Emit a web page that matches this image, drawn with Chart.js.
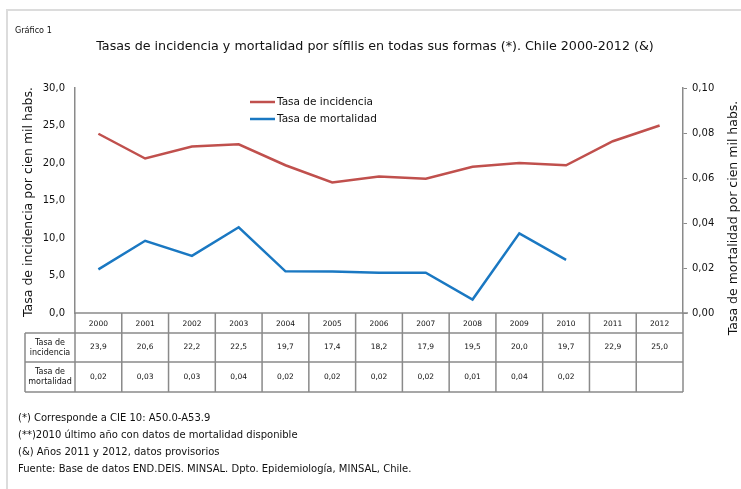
<!DOCTYPE html>
<html>
<head>
<meta charset="utf-8">
<script src="https://cdn.jsdelivr.net/npm/chart.js@4.4.1/dist/chart.umd.min.js"></script>
<style>
  html, body { margin: 0; padding: 0; background: #ffffff; }
  #wrap { position: relative; width: 741px; height: 489px; }
</style>
</head>
<body>
<div id="wrap"><canvas id="sifilisChart" width="741" height="489"></canvas></div>
<script>
// Datos del gráfico
var years = ['2000', '2001', '2002', '2003', '2004', '2005', '2006', '2007', '2008', '2009', '2010', '2011', '2012'];
var incidencia = [23.9, 20.6, 22.2, 22.5, 19.7, 17.4, 18.2, 17.9, 19.5, 20.0, 19.7, 22.9, 25.0];
var mortalidad = [0.0194, 0.0321, 0.0254, 0.0381, 0.0185, 0.0184, 0.0179, 0.0179, 0.0060, 0.0354, 0.0236, null, null];
var seriesNames = ['Tasa de incidencia', 'Tasa de mortalidad'];
var rowNames = [['Tasa de', 'incidencia'], ['Tasa de', 'mortalidad']];
var titleText = 'Tasas de incidencia y mortalidad por sífilis en todas sus formas (*). Chile 2000-2012 (&)';
var leftAxisTitle = 'Tasa de incidencia por cien mil habs.';
var rightAxisTitle = 'Tasa de mortalidad por cien mil habs.';
var notes = [
    '(*) Corresponde a CIE 10: A50.0-A53.9',
    '(**)2010 último año con datos de mortalidad disponible',
    '(&) Años 2011 y 2012, datos provisorios',
    'Fuente: Base de datos END.DEIS. MINSAL. Dpto. Epidemiología, MINSAL, Chile.'
];

var FONT = '"DejaVu Sans", Verdana, sans-serif';
var FONT_NARROW = '"DejaVu Sans Condensed", "DejaVu Sans", sans-serif';
var RED = '#c0504d';
var BLUE = '#1a78c2';
var LINE_GREY = '#8a8a8a';

function comma(v, d) {
    return v.toFixed(d).replace('.', ',');
}

// Textos, leyenda y tabla de datos
var extrasPlugin = {
    id: 'extras',
    afterDraw: function(chart) {
        var ctx = chart.ctx;
        var area = chart.chartArea;
        var x = chart.scales.x;
        ctx.save();

        // marco exterior
        ctx.strokeStyle = '#dcdcdc';
        ctx.lineWidth = 2;
        ctx.strokeRect(7, 10, 760, 500);

        ctx.fillStyle = '#111';
        ctx.textBaseline = 'middle';
        ctx.textAlign = 'left';
        ctx.font = '9px ' + FONT_NARROW;
        ctx.fillText('Gráfico 1', 15, 31);
        ctx.textAlign = 'center';
        ctx.font = '12.7px ' + FONT;
        ctx.fillText(titleText, 375, 47);

        // títulos de ejes (ambos de abajo hacia arriba)
        ctx.font = '12.5px ' + FONT;
        ctx.save();
        ctx.translate(29, 202);
        ctx.rotate(-Math.PI / 2);
        ctx.fillText(leftAxisTitle, 0, 0);
        ctx.restore();
        ctx.save();
        ctx.translate(734, 218);
        ctx.rotate(-Math.PI / 2);
        ctx.fillText(rightAxisTitle, 0, 0);
        ctx.restore();

        // leyenda
        ctx.font = '10.5px ' + FONT;
        ctx.textAlign = 'left';
        chart.data.datasets.forEach(function(ds, i) {
            var ly = area.top + 14 + i * 17;
            var lx = area.left + 175;
            ctx.strokeStyle = ds.borderColor;
            ctx.lineWidth = 2.5;
            ctx.beginPath();
            ctx.moveTo(lx, ly);
            ctx.lineTo(lx + 25, ly);
            ctx.stroke();
            ctx.fillStyle = '#111';
            ctx.fillText(ds.label, lx + 27, ly);
        });

        // tabla de datos bajo el eje
        var n = years.length;
        var half = (x.right - x.left) / n / 2;
        var top = area.bottom;
        var rows = [top, top + 20, top + 49, top + 79];
        var labelLeft = 25;

        ctx.strokeStyle = LINE_GREY;
        ctx.lineWidth = 1.5;
        ctx.beginPath();
        ctx.moveTo(x.left, rows[0]); ctx.lineTo(x.right + 5, rows[0]);
        ctx.moveTo(x.left, rows[1]); ctx.lineTo(x.right, rows[1]);
        ctx.moveTo(labelLeft, rows[1]); ctx.lineTo(x.left, rows[1]);
        ctx.moveTo(labelLeft, rows[2]); ctx.lineTo(x.right, rows[2]);
        ctx.moveTo(labelLeft, rows[3]); ctx.lineTo(x.right, rows[3]);
        ctx.moveTo(labelLeft, rows[1]); ctx.lineTo(labelLeft, rows[3]);
        for (var i = 0; i <= n; i++) {
            var ex = (i < n ? x.getPixelForValue(i) - half : x.getPixelForValue(n - 1) + half);
            ctx.moveTo(ex, rows[0]); ctx.lineTo(ex, rows[3]);
        }
        ctx.stroke();

        ctx.fillStyle = '#111';
        ctx.textAlign = 'center';
        ctx.font = '7.5px ' + FONT;
        for (var j = 0; j < n; j++) {
            var cx = x.getPixelForValue(j);
            ctx.fillText(years[j], cx, (rows[0] + rows[1]) / 2 + 1);
            ctx.fillText(comma(incidencia[j], 1), cx, (rows[1] + rows[2]) / 2);
            if (mortalidad[j] !== null) {
                ctx.fillText(comma(mortalidad[j], 2), cx, (rows[2] + rows[3]) / 2);
            }
        }
        var lc = (labelLeft + x.left) / 2;
        ctx.font = '8px ' + FONT;
        rowNames.forEach(function(lines, r) {
            var cy = (rows[r + 1] + rows[r + 2]) / 2;
            ctx.fillText(lines[0], lc, cy - 5);
            ctx.fillText(lines[1], lc, cy + 5);
        });

        // notas
        ctx.textAlign = 'left';
        ctx.font = '10px ' + FONT;
        notes.forEach(function(t, k) {
            ctx.fillText(t, 18, 418 + k * 17);
        });

        ctx.restore();
    }
};

var ctx = document.getElementById('sifilisChart').getContext('2d');
var sifilisChart = new Chart(ctx, {
    type: 'line',
    data: {
        labels: years,
        datasets: [{
            label: seriesNames[0],
            data: incidencia,
            yAxisID: 'y',
            borderColor: RED,
            backgroundColor: RED,
            borderWidth: 2.5,
            pointRadius: 0,
            tension: 0
        }, {
            label: seriesNames[1],
            data: mortalidad,
            yAxisID: 'y1',
            borderColor: BLUE,
            backgroundColor: BLUE,
            borderWidth: 2.5,
            pointRadius: 0,
            tension: 0,
            spanGaps: false
        }]
    },
    options: {
        responsive: false,
        animation: false,
        devicePixelRatio: 1,
        layout: {
            padding: { left: 0, right: 0, top: 88, bottom: 176 }
        },
        plugins: {
            legend: { display: false },
            tooltip: { enabled: false },
            title: { display: false }
        },
        scales: {
            x: {
                display: false,
                offset: true
            },
            y: {
                position: 'left',
                min: 0,
                max: 30,
                afterFit: function(scale) { scale.width = 75; },
                ticks: {
                    stepSize: 5,
                    padding: 10,
                    color: '#111',
                    font: { family: FONT, size: 10 },
                    callback: function(v) { return comma(v, 1); }
                },
                grid: { display: false, drawTicks: false },
                border: { display: true, color: LINE_GREY, width: 1.5 }
            },
            y1: {
                position: 'right',
                min: 0,
                max: 0.1,
                afterFit: function(scale) { scale.width = 58; },
                ticks: {
                    stepSize: 0.02,
                    padding: 5,
                    color: '#111',
                    font: { family: FONT, size: 10 },
                    callback: function(v) { return comma(v, 2); }
                },
                grid: {
                    display: true,
                    drawOnChartArea: false,
                    drawTicks: true,
                    tickLength: 4,
                    color: LINE_GREY
                },
                border: { display: true, color: LINE_GREY, width: 1.5 }
            }
        }
    },
    plugins: [extrasPlugin]
});
</script>
</body>
</html>
